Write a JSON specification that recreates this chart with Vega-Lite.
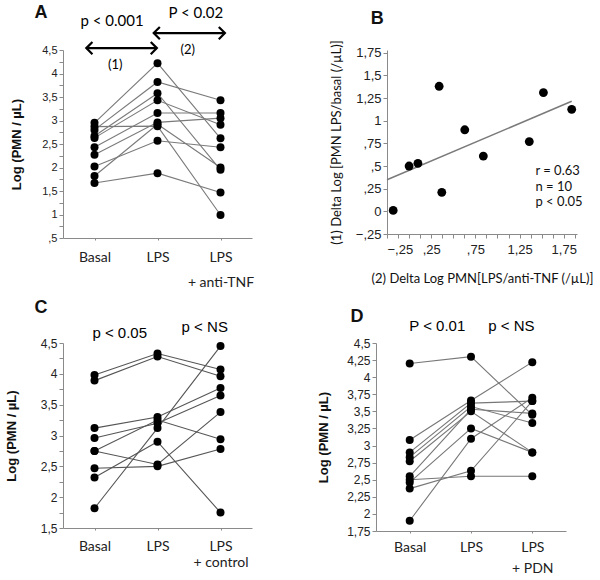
{
  "$schema": "https://vega.github.io/schema/vega-lite/v6.json",
  "background": "white",
  "padding": {"left": 5, "top": 3, "right": 5, "bottom": 0},
  "config": {
    "font": "Liberation Sans",
    "view": {"stroke": null},
    "axis": {"grid": false, "domainColor": "#8a8a8a", "tickColor": "#8a8a8a", "labelColor": "#222", "labelFontSize": 11, "titleFontSize": 13, "titleFontWeight": "bold", "titleColor": "#111", "tickSize": 4}
  },
  "datasets": {
    "A": [
      {"subject": 1, "x": 1, "y": 2.95}, {"subject": 1, "x": 2, "y": 4.22}, {"subject": 1, "x": 3, "y": 2.62},
      {"subject": 2, "x": 1, "y": 2.87}, {"subject": 2, "x": 2, "y": 2.88}, {"subject": 2, "x": 3, "y": 0.99},
      {"subject": 3, "x": 1, "y": 2.80}, {"subject": 3, "x": 2, "y": 3.82}, {"subject": 3, "x": 3, "y": 3.43},
      {"subject": 4, "x": 1, "y": 2.67}, {"subject": 4, "x": 2, "y": 3.58}, {"subject": 4, "x": 3, "y": 1.95},
      {"subject": 5, "x": 1, "y": 2.63}, {"subject": 5, "x": 2, "y": 3.43}, {"subject": 5, "x": 3, "y": 2.91},
      {"subject": 6, "x": 1, "y": 2.43}, {"subject": 6, "x": 2, "y": 3.16}, {"subject": 6, "x": 3, "y": 3.16},
      {"subject": 7, "x": 1, "y": 2.27}, {"subject": 7, "x": 2, "y": 2.96}, {"subject": 7, "x": 3, "y": 3.05},
      {"subject": 8, "x": 1, "y": 2.02}, {"subject": 8, "x": 2, "y": 2.57}, {"subject": 8, "x": 3, "y": 2.43},
      {"subject": 9, "x": 1, "y": 1.82}, {"subject": 9, "x": 2, "y": 2.92}, {"subject": 9, "x": 3, "y": 2.00},
      {"subject": 10, "x": 1, "y": 1.67}, {"subject": 10, "x": 2, "y": 1.88}, {"subject": 10, "x": 3, "y": 1.47}
    ],
    "annA": [
      {"x": 1.28, "y": 5.12, "label": "p < 0.001", "size": 15},
      {"x": 2.61, "y": 5.29, "label": "P < 0.02", "size": 15},
      {"x": 1.33, "y": 4.18, "label": "(1)", "size": 13},
      {"x": 2.48, "y": 4.5, "label": "(2)", "size": 13}
    ],
    "letterA": [{"x": 0.15, "y": 5.29, "label": "A"}],
    "arrA": [
      {"x": 0.87, "x2": 1.99, "y": 4.54},
      {"x": 1.94, "x2": 3.07, "y": 4.86}
    ],
    "headA": [
      {"x": 0.87, "y": 4.54, "dir": "L"}, {"x": 1.99, "y": 4.54, "dir": "R"},
      {"x": 1.94, "y": 4.86, "dir": "L"}, {"x": 3.07, "y": 4.86, "dir": "R"}
    ],
    "B": [
      {"x": -0.18, "y": 0.01}, {"x": 0.0, "y": 0.5}, {"x": 0.1, "y": 0.53},
      {"x": 0.34, "y": 1.38}, {"x": 0.37, "y": 0.21}, {"x": 0.63, "y": 0.9},
      {"x": 0.84, "y": 0.61}, {"x": 1.36, "y": 0.77}, {"x": 1.52, "y": 1.31},
      {"x": 1.84, "y": 1.125}
    ],
    "annB": [
      {"x": 1.43, "y": 0.44, "label": "r = 0.63"},
      {"x": 1.43, "y": 0.27, "label": "n = 10"},
      {"x": 1.43, "y": 0.1, "label": "p < 0.05"}
    ],
    "letterB": [{"x": -0.36, "y": 2.12, "label": "B"}],
    "C": [
      {"subject": 1, "x": 1, "y": 3.98}, {"subject": 1, "x": 2, "y": 4.33}, {"subject": 1, "x": 3, "y": 4.07},
      {"subject": 2, "x": 1, "y": 3.89}, {"subject": 2, "x": 2, "y": 4.28}, {"subject": 2, "x": 3, "y": 3.96},
      {"subject": 3, "x": 1, "y": 3.12}, {"subject": 3, "x": 2, "y": 3.30}, {"subject": 3, "x": 3, "y": 3.77},
      {"subject": 4, "x": 1, "y": 2.96}, {"subject": 4, "x": 2, "y": 3.20}, {"subject": 4, "x": 3, "y": 3.65},
      {"subject": 5, "x": 1, "y": 2.75}, {"subject": 5, "x": 2, "y": 3.25}, {"subject": 5, "x": 3, "y": 2.94},
      {"subject": 6, "x": 1, "y": 2.75}, {"subject": 6, "x": 2, "y": 2.53}, {"subject": 6, "x": 3, "y": 3.38},
      {"subject": 7, "x": 1, "y": 2.47}, {"subject": 7, "x": 2, "y": 2.50}, {"subject": 7, "x": 3, "y": 2.78},
      {"subject": 8, "x": 1, "y": 2.32}, {"subject": 8, "x": 2, "y": 2.90}, {"subject": 8, "x": 3, "y": 1.75},
      {"subject": 9, "x": 1, "y": 1.82}, {"subject": 9, "x": 2, "y": 3.12}, {"subject": 9, "x": 3, "y": 4.45}
    ],
    "annC": [
      {"x": 1.4, "y": 4.66, "label": "p < 0.05"},
      {"x": 2.75, "y": 4.76, "label": "p < NS"}
    ],
    "letterC": [{"x": 0.15, "y": 5.07, "label": "C"}],
    "D": [
      {"subject": 1, "x": 1, "y": 4.20}, {"subject": 1, "x": 2, "y": 4.30}, {"subject": 1, "x": 3, "y": 3.45},
      {"subject": 2, "x": 1, "y": 3.08}, {"subject": 2, "x": 2, "y": 3.66}, {"subject": 2, "x": 3, "y": 4.22},
      {"subject": 3, "x": 1, "y": 2.90}, {"subject": 3, "x": 2, "y": 3.62}, {"subject": 3, "x": 3, "y": 3.65},
      {"subject": 4, "x": 1, "y": 2.83}, {"subject": 4, "x": 2, "y": 3.57}, {"subject": 4, "x": 3, "y": 3.33},
      {"subject": 5, "x": 1, "y": 2.77}, {"subject": 5, "x": 2, "y": 3.50}, {"subject": 5, "x": 3, "y": 2.90},
      {"subject": 6, "x": 1, "y": 2.55}, {"subject": 6, "x": 2, "y": 3.53}, {"subject": 6, "x": 3, "y": 3.47},
      {"subject": 7, "x": 1, "y": 2.50}, {"subject": 7, "x": 2, "y": 2.55}, {"subject": 7, "x": 3, "y": 2.55},
      {"subject": 8, "x": 1, "y": 2.46}, {"subject": 8, "x": 2, "y": 3.25}, {"subject": 8, "x": 3, "y": 2.90},
      {"subject": 9, "x": 1, "y": 2.37}, {"subject": 9, "x": 2, "y": 2.63}, {"subject": 9, "x": 3, "y": 3.65},
      {"subject": 10, "x": 1, "y": 1.90}, {"subject": 10, "x": 2, "y": 3.10}, {"subject": 10, "x": 3, "y": 3.70}
    ],
    "annD": [
      {"x": 1.45, "y": 4.75, "label": "P < 0.01"},
      {"x": 2.66, "y": 4.75, "label": "p < NS"}
    ],
    "letterD": [{"x": 0.14, "y": 4.88, "label": "D"}]
  },
  "spacing": 9,
  "vconcat": [
    {
      "spacing": 76,
      "hconcat": [
        {
          "width": 189, "height": 188,
          "encoding": {
            "x": {"field": "x", "type": "quantitative", "scale": {"domain": [0.5, 3.5], "nice": false},
              "axis": {"values": [1, 2, 3], "title": null, "labelFont": "Lato", "labelFontSize": 14, "labelPadding": 10, "labelLineHeight": 25, "tickSize": 2,
                "labelExpr": "datum.value == 1 ? 'Basal' : datum.value == 2 ? 'LPS' : ['LPS', '+ anti-TNF']"}},
            "y": {"field": "y", "type": "quantitative", "scale": {"domain": [0.5, 4.5], "nice": false, "zero": false},
              "axis": {"title": "Log (PMN / µL)", "titlePadding": 18, "values": [0.5, 0.75, 1, 1.25, 1.5, 1.75, 2, 2.25, 2.5, 2.75, 3, 3.25, 3.5, 3.75, 4, 4.25, 4.5], "format": ".2~f",
                "labelExpr": "(datum.value * 2) % 1 == 0 ? replace(replace(datum.label, '.', ','), '0,', ',') : ''"}}
          },
          "layer": [
            {"data": {"name": "A"}, "mark": {"type": "line", "color": "#7a7a7a", "strokeWidth": 1.1}, "encoding": {"detail": {"field": "subject"}}},
            {"data": {"name": "A"}, "mark": {"type": "circle", "color": "#000", "size": 64, "opacity": 1}},
            {"data": {"name": "arrA"}, "mark": {"type": "rule", "color": "#000", "strokeWidth": 2.2, "clip": false}, "encoding": {"x2": {"field": "x2"}}},
            {"data": {"name": "headA"}, "mark": {"type": "point", "filled": false, "color": "#000", "strokeWidth": 2.2, "size": 150, "opacity": 1, "clip": false},
              "encoding": {"shape": {"field": "dir", "type": "nominal", "scale": {"domain": ["L", "R"], "range": ["M1,-1L0,0L1,1", "M-1,-1L0,0L-1,1"]}, "legend": null}}},
            {"data": {"name": "annA"}, "mark": {"type": "text", "color": "#000", "clip": false, "font": "Lato"},
              "encoding": {"text": {"field": "label"}, "size": {"field": "size", "type": "quantitative", "scale": null}}},
            {"data": {"name": "letterA"}, "mark": {"type": "text", "color": "#111", "fontSize": 18, "fontWeight": "bold", "clip": false}, "encoding": {"text": {"field": "label"}}}
          ]
        },
        {
          "width": 190, "height": 184,
          "encoding": {
            "x": {"field": "x", "type": "quantitative", "scale": {"domain": [-0.25, 1.9], "nice": false, "zero": false},
              "axis": {"title": "(2) Delta Log PMN[LPS/anti-TNF (/µL)]", "titleFont": "Lato", "titleFontWeight": "normal", "titleFontSize": 13, "titlePadding": 16, "labelFontSize": 13, "labelPadding": 5,
                "values": [-0.25, -0.125, 0, 0.125, 0.25, 0.375, 0.5, 0.625, 0.75, 0.875, 1, 1.125, 1.25, 1.375, 1.5, 1.625, 1.75, 1.875], "format": ".3~f",
                "labelExpr": "indexof([-0.25, 0.25, 0.75, 1.25, 1.75], datum.value) >= 0 ? replace(replace(datum.label, '.', ','), '0,', ',') : ''"}},
            "y": {"field": "y", "type": "quantitative", "scale": {"domain": [-0.25, 1.78], "nice": false, "zero": false},
              "axis": {"title": "(1) Delta Log [PMN LPS/basal (/µL)]", "titleFont": "Lato", "titleFontWeight": "normal", "titleFontSize": 13, "titlePadding": 12, "labelFontSize": 13,
                "values": [-0.25, 0, 0.25, 0.5, 0.75, 1, 1.25, 1.5, 1.75], "format": ".2~f",
                "labelExpr": "replace(replace(datum.label, '.', ','), '0,', ',')"}}
          },
          "layer": [
            {"data": {"name": "B"}, "transform": [{"regression": "y", "on": "x", "extent": [-0.25, 1.84]}], "mark": {"type": "line", "color": "#7a7a7a", "strokeWidth": 1.5}},
            {"data": {"name": "B"}, "mark": {"type": "circle", "color": "#000", "size": 78, "opacity": 1}},
            {"data": {"name": "annB"}, "mark": {"type": "text", "color": "#111", "align": "left", "font": "Lato", "fontSize": 13}, "encoding": {"text": {"field": "label"}}},
            {"data": {"name": "letterB"}, "mark": {"type": "text", "color": "#111", "fontSize": 18, "fontWeight": "bold", "clip": false}, "encoding": {"text": {"field": "label"}}}
          ]
        }
      ]
    },
    {
      "spacing": 65,
      "hconcat": [
        {
          "width": 189, "height": 185,
          "encoding": {
            "x": {"field": "x", "type": "quantitative", "scale": {"domain": [0.5, 3.5], "nice": false},
              "axis": {"values": [1, 2, 3], "title": null, "labelFont": "Lato", "labelFontSize": 14, "labelPadding": 9, "labelLineHeight": 16, "tickSize": 2,
                "labelExpr": "datum.value == 1 ? 'Basal' : datum.value == 2 ? 'LPS' : ['LPS', '+ control']"}},
            "y": {"field": "y", "type": "quantitative", "scale": {"domain": [1.5, 4.5], "nice": false, "zero": false},
              "axis": {"title": "Log (PMN / µL)", "titlePadding": 22, "labelFontSize": 12, "values": [1.5, 1.75, 2, 2.25, 2.5, 2.75, 3, 3.25, 3.5, 3.75, 4, 4.25, 4.5], "format": ".2~f",
                "labelExpr": "(datum.value * 2) % 1 == 0 ? replace(datum.label, '.', ',') : ''"}}
          },
          "layer": [
            {"data": {"name": "C"}, "mark": {"type": "line", "color": "#555", "strokeWidth": 1.1}, "encoding": {"detail": {"field": "subject"}}},
            {"data": {"name": "C"}, "mark": {"type": "circle", "color": "#000", "size": 64, "opacity": 1}},
            {"data": {"name": "annC"}, "mark": {"type": "text", "color": "#000", "clip": false, "fontSize": 15}, "encoding": {"text": {"field": "label"}}},
            {"data": {"name": "letterC"}, "mark": {"type": "text", "color": "#111", "fontSize": 18, "fontWeight": "bold", "clip": false}, "encoding": {"text": {"field": "label"}}}
          ]
        },
        {
          "width": 190, "height": 188,
          "encoding": {
            "x": {"field": "x", "type": "quantitative", "scale": {"domain": [0.45, 3.55], "nice": false},
              "axis": {"values": [1, 2, 3], "title": null, "labelFont": "Lato", "labelFontSize": 14, "labelPadding": 7, "labelLineHeight": 21, "tickSize": 2,
                "labelExpr": "datum.value == 1 ? 'Basal' : datum.value == 2 ? 'LPS' : ['LPS', '+ PDN']"}},
            "y": {"field": "y", "type": "quantitative", "scale": {"domain": [1.75, 4.5], "nice": false, "zero": false},
              "axis": {"title": "Log (PMN / µL)", "titlePadding": 16, "labelFontSize": 12, "values": [1.75, 2, 2.25, 2.5, 2.75, 3, 3.25, 3.5, 3.75, 4, 4.25, 4.5], "format": ".2~f",
                "labelExpr": "replace(datum.label, '.', ',')"}}
          },
          "layer": [
            {"data": {"name": "D"}, "mark": {"type": "line", "color": "#777", "strokeWidth": 1.1}, "encoding": {"detail": {"field": "subject"}}},
            {"data": {"name": "D"}, "mark": {"type": "circle", "color": "#000", "size": 64, "opacity": 1}},
            {"data": {"name": "annD"}, "mark": {"type": "text", "color": "#000", "clip": false, "fontSize": 15}, "encoding": {"text": {"field": "label"}}},
            {"data": {"name": "letterD"}, "mark": {"type": "text", "color": "#111", "fontSize": 18, "fontWeight": "bold", "clip": false}, "encoding": {"text": {"field": "label"}}}
          ]
        }
      ]
    }
  ]
}
